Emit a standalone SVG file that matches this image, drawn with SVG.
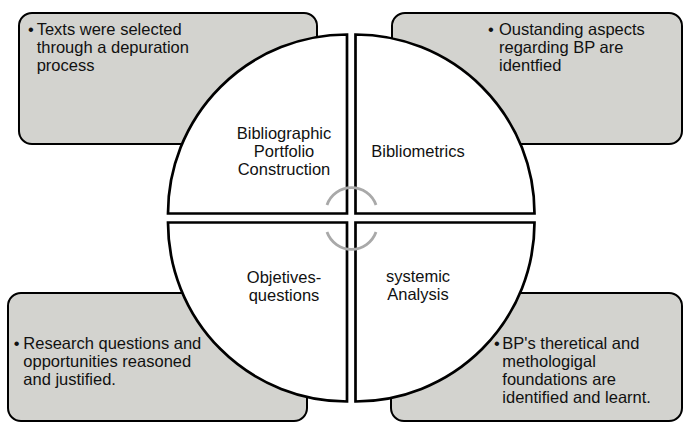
<svg xmlns="http://www.w3.org/2000/svg" width="683" height="423" viewBox="0 0 683 423">
  <style>
    .box { fill: #d3d3cf; stroke: #000; stroke-width: 2; }
    .wedge { fill: #fff; stroke: #000; stroke-width: 2.7; stroke-linejoin: miter; }
    .arc { fill: none; stroke: #a9a9a9; stroke-width: 2.8; }
    text { font-family: "Liberation Sans", Arial, Helvetica, sans-serif; font-size: 16.5px; fill: #111; }
    .mid { text-anchor: middle; }
  </style>
  <rect width="683" height="423" fill="#fff"/>

  <g id="box-top-left">
    <rect class="box" x="19" y="13" width="298" height="131" rx="13"/>
    <text x="30.8" y="35" class="mid">•</text>
    <text x="36.7" y="35">Texts were selected</text>
    <text x="36.7" y="53">through a depuration</text>
    <text x="36.7" y="71">process</text>
  </g>
  <g id="box-top-right">
    <rect class="box" x="392" y="13" width="290" height="131" rx="13"/>
    <text x="491" y="35" class="mid">•</text>
    <text x="499" y="35">Oustanding aspects</text>
    <text x="499" y="53">regarding BP are</text>
    <text x="499" y="71">identfied</text>
  </g>
  <g id="box-bottom-left">
    <rect class="box" x="8" y="293" width="299" height="128" rx="13"/>
    <text x="16.7" y="348.5" class="mid">•</text>
    <text x="23.3" y="348.5">Research questions and</text>
    <text x="23.3" y="366.5">opportunities reasoned</text>
    <text x="23.3" y="384.5">and justified.</text>
  </g>
  <g id="box-bottom-right">
    <rect class="box" x="391" y="293" width="291" height="128" rx="13"/>
    <text x="497" y="348.5" class="mid">•</text>
    <text x="502.3" y="348.5">BP's theretical and</text>
    <text x="502.3" y="366.5">methologigal</text>
    <text x="502.3" y="384.5">foundations are</text>
    <text x="502.3" y="402.5">identified and learnt.</text>
  </g>

  <g id="quadrant-bibliographic">
    <path class="wedge" d="M347,213.5 H168 A179,179 0 0 1 347,34.5 Z"/>
    <text x="284" y="138.5" class="mid">Bibliographic</text>
    <text x="284" y="156.5" class="mid">Portfolio</text>
    <text x="284" y="174.5" class="mid">Construction</text>
  </g>
  <g id="quadrant-bibliometrics">
    <path class="wedge" d="M355.5,213.5 V34.5 A179,179 0 0 1 534.5,213.5 Z"/>
    <text x="418" y="156.5" class="mid">Bibliometrics</text>
  </g>
  <g id="quadrant-objetives">
    <path class="wedge" d="M347,222.5 V401.5 A179,179 0 0 1 168,222.5 Z"/>
    <text x="284" y="282.5" class="mid">Objetives-</text>
    <text x="284" y="300.5" class="mid">questions</text>
  </g>
  <g id="quadrant-systemic">
    <path class="wedge" d="M355.5,222.5 H534.5 A179,179 0 0 1 355.5,401.5 Z"/>
    <text x="418" y="282" class="mid">systemic</text>
    <text x="418" y="300" class="mid">Analysis</text>
  </g>

  <g id="connectors">
    <path class="arc" d="M327,205 A26,26 0 0 1 376,205"/>
    <path class="arc" d="M327,232 A26,26 0 0 0 376,232"/>
  </g>
</svg>
